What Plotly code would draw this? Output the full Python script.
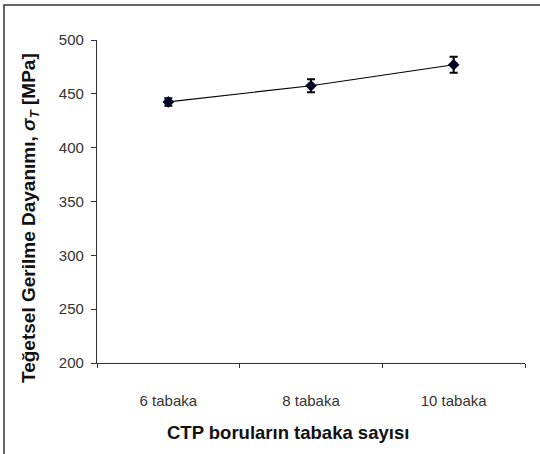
import plotly.graph_objects as go

categories = ["6 tabaka", "8 tabaka", "10 tabaka"]
strength = [442.5, 457.5, 477.0]
err = [3.5, 6.0, 7.5]
y_ticks = [200, 250, 300, 350, 400, 450, 500]
x_title = "<b>CTP boruların tabaka sayısı</b>"
y_title = "<b>Teğetsel Gerilme Dayanımı, <i>σ<sub>T</sub></i> [MPa]</b>"

W, H = 540, 454
L, R, T, B = 97, 15, 40, 91
pw, ph = W - L - R, H - T - B

def px_x(p):
    return (p - L) / pw

def px_y(p):
    return (H - B - p) / ph

fig = go.Figure()
fig.add_trace(go.Scatter(
    x=categories, y=strength, mode="lines+markers",
    line=dict(color="#000000", width=1.2),
    marker=dict(symbol="diamond", size=9, color="#000022"),
    error_y=dict(type="data", array=err, visible=True, color="#000000", thickness=2, width=4),
    showlegend=False,
))

font_family = "Liberation Sans, Arial, sans-serif"
fig.update_layout(
    width=W, height=H,
    margin=dict(l=L, r=R, t=T, b=B),
    paper_bgcolor="white", plot_bgcolor="white",
    font=dict(family=font_family, color="#222222"),
    xaxis=dict(
        type="category", range=[-0.5, 2.5], tickson="boundaries",
        showline=True, linecolor="#333333", linewidth=1.3,
        ticks="outside", ticklen=4, tickcolor="#333333",
        showgrid=False, zeroline=False,
        tickfont=dict(size=15, color="#333333"),
        ticklabelstandoff=24,
    ),
    yaxis=dict(
        range=[200, 500], tickvals=y_ticks,
        showline=True, linecolor="#333333", linewidth=1.3,
        ticks="outside", ticklen=5, tickcolor="#333333",
        showgrid=False, zeroline=False,
        tickfont=dict(size=15, color="#333333"),
        ticklabelstandoff=4,
    ),
    annotations=[
        dict(text=x_title, xref="paper", yref="paper", x=px_x(288), y=px_y(432),
             xanchor="center", yanchor="middle", showarrow=False,
             font=dict(size=18.5, color="#111111")),
        dict(text=y_title, xref="paper", yref="paper", x=px_x(30), y=px_y(218),
             xanchor="center", yanchor="middle", showarrow=False, textangle=-90,
             font=dict(size=19, color="#111111")),
    ],
    shapes=[dict(
        type="rect", xref="paper", yref="paper",
        x0=px_x(4), x1=px_x(545),
        y0=px_y(460), y1=px_y(5),
        line=dict(color="#333333", width=1.5), fillcolor="rgba(0,0,0,0)", layer="below",
    )],
)

fig.write_html("out.html", config={"displayModeBar": False},
               post_script="document.body.style.margin='0';document.body.style.padding='0';")
